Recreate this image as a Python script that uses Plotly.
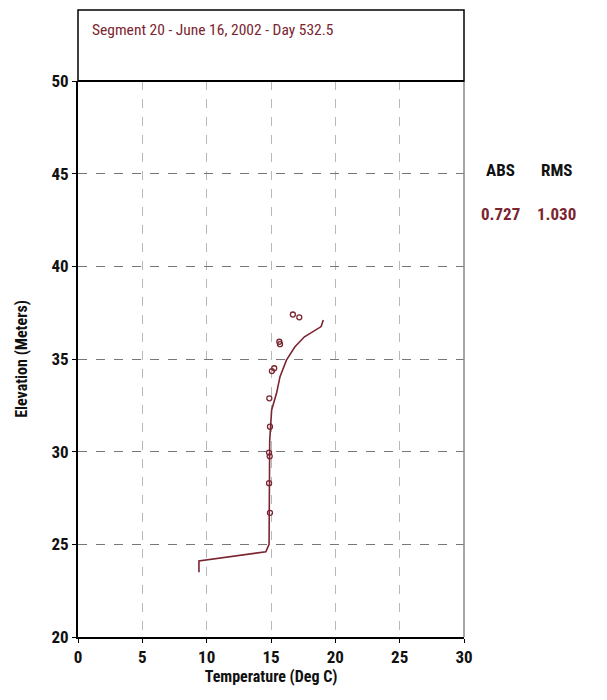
import plotly.graph_objects as go

# Model profile (line)
model_temp = [9.4, 9.4, 14.6, 14.85, 14.9, 15.05, 15.43, 15.7, 16.2, 16.86, 17.6, 18.9, 19.06]
model_elev = [23.5, 24.1, 24.6, 25.0, 30.6, 32.25, 33.15, 34.05, 34.94, 35.66, 36.2, 36.75, 37.1]

# Observed data (markers)
obs_temp = [16.7, 17.2, 15.65, 15.7, 15.07, 15.25, 14.87, 14.92, 14.85, 14.9, 14.85, 14.92]
obs_elev = [37.4, 37.25, 35.93, 35.8, 34.35, 34.5, 32.88, 31.35, 29.95, 29.75, 28.3, 26.7]

title_text = "Segment 20 - June 16, 2002 - Day 532.5"
stat_labels = ["ABS", "RMS"]
stat_values = ["0.727", "1.030"]

x_ticks = [0, 5, 10, 15, 20, 25, 30]
y_ticks = [20, 25, 30, 35, 40, 45, 50]

FONT = "Roboto Condensed, Liberation Sans Narrow, Arial Narrow, Roboto, sans-serif"
RED = "#7a2530"

fig = go.Figure()
fig.add_trace(go.Scatter(x=model_temp, y=model_elev, mode="lines",
                         line=dict(color=RED, width=1.6), showlegend=False))
fig.add_trace(go.Scatter(x=obs_temp, y=obs_elev, mode="markers",
                         marker=dict(symbol="circle-open", size=5, color=RED, line=dict(width=1.3)),
                         showlegend=False))

W, H = 607, 700
OFF = 8  # page body margin
L, R, T, B = 78, 464, 81, 637
ph = B - T
BOX_TOP = 10

fig.update_layout(
    width=W, height=H,
    margin=dict(l=L - OFF, r=W - R + OFF, t=T - OFF, b=H - B + OFF),
    paper_bgcolor="white", plot_bgcolor="white",
    font=dict(family=FONT, color="#111"),
    xaxis=dict(range=[0, 30], tickvals=x_ticks, ticktext=[f"<b>{v}</b>" for v in x_ticks],
               showgrid=True, gridcolor="#b8b8b8", griddash="dash", gridwidth=1,
               zeroline=False, showline=True, linecolor="black", linewidth=2,
               ticks="outside", ticklen=4, tickcolor="black",
               tickfont=dict(size=17, family=FONT, color="#111"),
               title=dict(text="<b>Temperature (Deg C)</b>", font=dict(size=16, family=FONT), standoff=4)),
    yaxis=dict(range=[20, 50], tickvals=y_ticks, ticktext=[f"<b>{v}</b>" for v in y_ticks],
               showgrid=True, gridcolor="#777", griddash="dash", gridwidth=1,
               zeroline=False, showline=True, linecolor="black", linewidth=2,
               ticks="outside", ticklen=4, tickcolor="black",
               tickfont=dict(size=17, family=FONT, color="#111"),
               title=dict(text="<b>Elevation (Meters)</b>", font=dict(size=16, family=FONT), standoff=20)),
)

# right border (gray) of plot area
fig.add_shape(type="line", xref="paper", yref="paper", x0=1, x1=1, y0=0, y1=1,
              line=dict(color="#888", width=1.5))
# top line at 50 (black)
fig.add_shape(type="line", xref="paper", yref="paper", x0=0, x1=1, y0=1, y1=1,
              line=dict(color="black", width=2))
# title box
fig.add_shape(type="rect", xref="paper", yref="paper", x0=0, x1=1,
              y0=1, y1=1 + (T - BOX_TOP) / ph, line=dict(color="black", width=1.5))
fig.add_annotation(text=title_text, xref="paper", yref="paper",
                   x=(90 - L) / (R - L), y=1 + (T - 30) / ph, xanchor="left", yanchor="middle",
                   showarrow=False, font=dict(size=15.5, family=FONT, color=RED))

# stats
stat_x = [500, 556]
for lbl, val, sx in zip(stat_labels, stat_values, stat_x):
    fig.add_annotation(text=f"<b>{lbl}</b>", xref="paper", yref="paper",
                       x=(sx - L) / (R - L), y=1 - (170 - T) / ph, xanchor="center", yanchor="middle",
                       showarrow=False, font=dict(size=17, family=FONT, color="#111"))
    fig.add_annotation(text=f"<b>{val}</b>", xref="paper", yref="paper",
                       x=(sx - L) / (R - L), y=1 - (214 - T) / ph, xanchor="center", yanchor="middle",
                       showarrow=False, font=dict(size=17, family=FONT, color=RED))

fig.write_html("out.html")
